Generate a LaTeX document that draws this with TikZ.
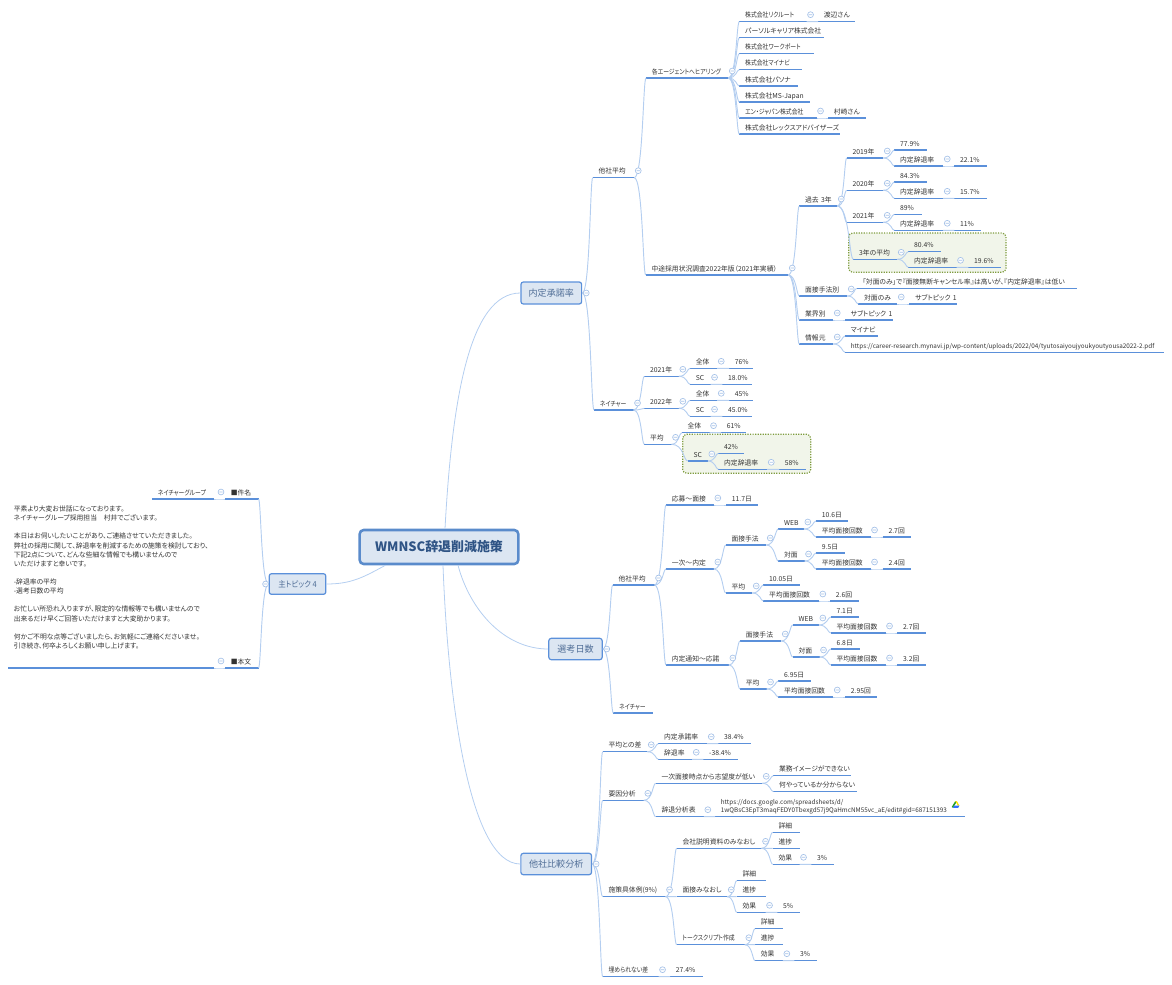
\documentclass[tikz,border=0pt]{standalone}
\usepackage{fontspec}
\setmainfont{Noto Sans CJK JP}[RawFeature=+palt]
\usepackage{xcolor}
\usetikzlibrary{calc, positioning}

\definecolor{rulecol}{HTML}{5B90DA}
\definecolor{linkcol}{HTML}{B4CEF0}
\definecolor{togglecol}{HTML}{A6C2E8}
\definecolor{boxfill}{HTML}{DCE6F2}
\definecolor{boxtext}{HTML}{4F6D96}
\definecolor{rootedge}{HTML}{5A8BCB}
\definecolor{roottext}{HTML}{2F5485}
\definecolor{greenedge}{HTML}{7F9C3F}
\definecolor{greenfill}{HTML}{F1F5EA}

\tikzset{
    underline/.style={draw=rulecol, line width=1.1pt},
    topic/.style={anchor=south west, inner xsep=4.2pt, inner ysep=1.5pt, align=left,
        font=\fontsize{5.1}{6.85}\selectfont, text=black!80,
        text height=4.6pt, text depth=1.2pt,
        append after command={(\tikzlastnode.south west) edge[underline] (\tikzlastnode.south east)}},
    wd/.style={text width={(#1)*0.75pt-8.4pt}},
    multi/.style={text height=, text depth=},
    tight/.style={font=\fontsize{5.1}{6.85}\selectfont\addfontfeature{FakeStretch=0.86}},
    weblink/.style={font=\fontsize{4.75}{6.5}\selectfont},
    mainbox/.style={draw=rulecol, line width=0.9pt, fill=boxfill, rounded corners=1.8pt,
        text=boxtext, font=\fontsize{6.8}{8}\selectfont, inner sep=0pt},
    link/.style={draw=linkcol, line width=0.7pt},
    rootlink/.style={draw=linkcol, line width=0.6pt},
    toggle/.style={draw=togglecol, fill=white, line width=0.5pt},
    hilite/.style={draw=greenedge, fill=greenfill, line width=0.9pt, densely dotted, rounded corners=3pt},
}

% curved connector, leaves and enters level
\newcommand{\trunk}[2]{%
    \draw[link] (#1) .. controls ($(#1)!.75!(#2 |- #1)$) and ($(#2)!.25!(#1 |- #2)$) .. (#2);}

\begin{document}
\begin{tikzpicture}[x=0.75pt, y=-0.75pt]
    \useasboundingbox (0,0) rectangle (1172,985);

    % --- Highlight frames ---
    \draw[hilite] (848.7,233) rectangle (1006,272.3);
    \draw[hilite] (682.7,434.3) rectangle (810.7,473.3);

    % --- Central topic ---
    \node[draw=rootedge, line width=1.9pt, fill=boxfill, rounded corners=3pt, text=roottext,
        font=\fontsize{9.7}{11}\selectfont\bfseries, minimum width=119pt, minimum height=25.5pt, inner sep=0pt]
        (root) at (439,547) {WMNSC辞退削減施策};

    % --- Main topics ---
    \node[mainbox, minimum width=45.5pt, minimum height=16.5pt] (offer) at (551.3,293) {内定承諾率};
    \node[mainbox, minimum width=40pt, minimum height=16pt] (days) at (575.5,649) {選考日数};
    \node[mainbox, minimum width=53pt, minimum height=16pt] (compare) at (556.2,864) {他社比較分析};
    \node[mainbox, minimum width=42.5pt, minimum height=15.5pt, font=\fontsize{6.2}{8}\selectfont\addfontfeature{FakeStretch=0.9}] (hub) at (297.5,584) {主トピック~4};

    % --- Offer rate: other companies ---
    \node[topic, wd=41] (oAvg) at (592.7,177.7) {他社平均};
    \node[topic, tight, wd=81.7] (ag) at (646,78) {各エージェントへヒアリング};
    \node[topic, tight, wd=66.7] (ag1) at (739.3,21.7) {株式会社リクルート};
    \node[topic, wd=36.7] (ag1a) at (818,21.7) {渡辺さん};
    \node[topic, wd=84] (ag2) at (739.3,37.7) {パーソルキャリア株式会社};
    \node[topic, tight, wd=74] (ag3) at (739.3,53.7) {株式会社ワークポート};
    \node[topic, tight, wd=62] (ag4) at (739.3,69.7) {株式会社マイナビ};
    \node[topic, wd=58] (ag5) at (739.3,86) {株式会社パソナ};
    \node[topic, wd=70] (ag6) at (739.3,102) {株式会社MS-Japan};
    \node[topic, tight, wd=76.7] (ag7) at (739.3,118) {エン・ジャパン株式会社};
    \node[topic, wd=37.3] (ag7a) at (828,118) {村崎さん};
    \node[topic, wd=100] (ag8) at (739.3,134) {株式会社レックスアドバイザーズ};

    \node[topic, wd=142] (survey) at (645.7,275) {中途採用状況調査2022年版（2021年実績）};
    \node[topic, wd=37.4] (past) at (799.3,206) {過去~3年};
    \node[topic, wd=36] (y19) at (846.7,158) {2019年};
    \node[topic, wd=32.4] (y19a) at (894.3,150) {77.9\%};
    \node[topic, wd=48.4] (y19b) at (894.3,166) {内定辞退率};
    \node[topic, wd=31.7] (y19c) at (954.3,166) {22.1\%};
    \node[topic, wd=36] (y20) at (846.7,190.3) {2020年};
    \node[topic, wd=32.4] (y20a) at (894.3,182) {84.3\%};
    \node[topic, wd=48.4] (y20b) at (894.3,198.3) {内定辞退率};
    \node[topic, wd=31.7] (y20c) at (954.3,198.3) {15.7\%};
    \node[topic, wd=36] (y21) at (846.7,222.3) {2021年};
    \node[topic, wd=27] (y21a) at (894.3,214.3) {89\%};
    \node[topic, wd=48.4] (y21b) at (894.3,230.3) {内定辞退率};
    \node[topic, wd=26.4] (y21c) at (954.3,230.3) {11\%};
    \node[topic, wd=43.4] (y3) at (853.3,259.3) {3年の平均};
    \node[topic, wd=32.4] (y3a) at (908.3,251.7) {80.4\%};
    \node[topic, wd=47.7] (y3b) at (908.3,267.3) {内定辞退率};
    \node[topic, wd=31.7] (y3c) at (968.3,267.3) {19.6\%};
    \node[topic, wd=47.4] (meth) at (799.3,296) {面接手法別};
    \node[topic, wd=219.3] (meth1) at (856.7,288.3) {「対面のみ」で『面接無断キャンセル率』は高いが、『内定辞退率』は低い};
    \node[topic, wd=38.4] (meth2) at (858.3,304) {対面のみ};
    \node[topic, wd=47.4] (meth2a) at (909.3,304) {サブトピック~1};
    \node[topic, wd=33.4] (ind) at (799.3,320) {業界別};
    \node[topic, wd=47.7] (ind1) at (845,320) {サブトピック~1};
    \node[topic, wd=33.4] (src) at (799.3,344) {情報元};
    \node[topic, wd=32.7] (src1) at (845,336) {マイナビ};
    \node[topic, weblink, wd=318.3] (src2) at (845,352.3) {\mbox{https://career-research.mynavi.jp/wp-content/uploads/2022/04/tyutosaiyoujyoukyoutyousa2022-2.pdf}};

    % --- Offer rate: Nature ---
    \node[topic, tight, wd=39] (oNat) at (594,410) {ネイチャー};
    \node[topic, wd=34] (n21) at (644.3,376.3) {2021年};
    \node[topic, wd=26.7] (n21a) at (690,368.3) {全体};
    \node[topic, wd=23.7] (n21av) at (729,368.3) {76\%};
    \node[topic, wd=20] (n21b) at (690,384.3) {SC};
    \node[topic, wd=28.7] (n21bv) at (722.3,384.3) {18.0\%};
    \node[topic, wd=34] (n22) at (644.3,408.3) {2022年};
    \node[topic, wd=26.7] (n22a) at (690,400.3) {全体};
    \node[topic, wd=23.7] (n22av) at (729,400.3) {45\%};
    \node[topic, wd=20] (n22b) at (690,416.3) {SC};
    \node[topic, wd=28.7] (n22bv) at (722.3,416.3) {45.0\%};
    \node[topic, wd=26.7] (nAvg) at (644.3,444.3) {平均};
    \node[topic, wd=27.3] (nAvga) at (681.7,432.7) {全体};
    \node[topic, wd=24] (nAvgav) at (721,432.7) {61\%};
    \node[topic, wd=19.6] (nAvgb) at (687.7,461) {SC};
    \node[topic, wd=25] (nAvgb1) at (718.3,453.3) {42\%};
    \node[topic, wd=48.4] (nAvgb2) at (718.3,469.3) {内定辞退率};
    \node[topic, wd=26] (nAvgb2v) at (779,469.3) {58\%};

    % --- Selection days: other companies ---
    \node[topic, wd=41.3] (dAvg) at (612.7,585) {他社平均};
    \node[topic, wd=47.3] (d1) at (666,505) {応募〜面接};
    \node[topic, wd=31.3] (d1v) at (726,505) {11.7日};
    \node[topic, wd=47.3] (d2) at (666,569) {一次〜内定};
    \node[topic, wd=40] (d2m) at (725.7,545) {面接手法};
    \node[topic, wd=25] (d2w) at (778.3,529) {WEB};
    \node[topic, wd=31.7] (d2wa) at (816,521) {10.6日};
    \node[topic, wd=54] (d2wb) at (816,537) {平均面接回数};
    \node[topic, wd=27.3] (d2wbv) at (882.7,537) {2.7回};
    \node[topic, wd=25.7] (d2f) at (778.3,561) {対面};
    \node[topic, wd=28.3] (d2fa) at (816,553) {9.5日};
    \node[topic, wd=54] (d2fb) at (816,569) {平均面接回数};
    \node[topic, wd=27.7] (d2fbv) at (882.7,569) {2.4回};
    \node[topic, wd=26] (d2g) at (725.7,593) {平均};
    \node[topic, wd=35.7] (d2ga) at (763.3,585) {10.05日};
    \node[topic, wd=55] (d2gb) at (763.3,601) {平均面接回数};
    \node[topic, wd=28.3] (d2gbv) at (830,601) {2.6回};
    \node[topic, wd=62.3] (d3) at (666,665) {内定通知〜応諾};
    \node[topic, wd=40.7] (d3m) at (740,641) {面接手法};
    \node[topic, wd=25.6] (d3w) at (792.7,625) {WEB};
    \node[topic, wd=27.6] (d3wa) at (830.7,617) {7.1日};
    \node[topic, wd=54.3] (d3wb) at (830.7,633) {平均面接回数};
    \node[topic, wd=27.7] (d3wbv) at (897.3,633) {2.7回};
    \node[topic, wd=26.3] (d3f) at (792.7,657) {対面};
    \node[topic, wd=28.3] (d3fa) at (830.7,649) {6.8日};
    \node[topic, wd=54.3] (d3fb) at (830.7,665) {平均面接回数};
    \node[topic, wd=27.7] (d3fbv) at (897.3,665) {3.2回};
    \node[topic, wd=26] (d3g) at (740,689) {平均};
    \node[topic, wd=31.7] (d3ga) at (778.3,681) {6.95日};
    \node[topic, wd=54.4] (d3gb) at (778.3,697) {平均面接回数};
    \node[topic, wd=31.7] (d3gbv) at (845,697) {2.95回};
    \node[topic, tight, wd=39.4] (dNat) at (613.3,713) {ネイチャー};

    % --- Comparison with other companies ---
    \node[topic, wd=44] (gap) at (602.7,751.7) {平均との差};
    \node[topic, wd=48.4] (gap1) at (658.3,743.7) {内定承諾率};
    \node[topic, wd=31.7] (gap1v) at (718.3,743.7) {38.4\%};
    \node[topic, wd=33.4] (gap2) at (658.3,759.3) {辞退率};
    \node[topic, wd=34.4] (gap2v) at (703.3,759.3) {\mbox{-38.4\%}};
    \node[topic, wd=40.6] (why) at (602.7,800.3) {要因分析};
    \node[topic, wd=106] (why1) at (655.7,783.3) {一次面接時点から志望度が低い};
    \node[topic, wd=77.4] (why1a) at (773.3,775.7) {業務イメージができない};
    \node[topic, wd=82.7] (why1b) at (773.3,791.7) {何やっているか分からない};
    \node[topic, wd=47.6] (why2) at (655.7,816.7) {辞退分析表};
    \node[topic, weblink, wd=249, multi] (why2a) at (715,816.7) {https://docs.google.com/spreadsheets/d/\\
        1wQBsC3EpT3maqFEDY0Tbexgd57j9QaHmcNM55vc\_aE/edit\#gid=687151393};
    \node[topic, wd=62.3] (case) at (602.7,896.7) {施策具体例(9\%)};
    \node[topic, wd=84.3] (case1) at (676.7,848.3) {会社説明資料のみなおし};
    \node[topic, wd=26.3] (case1a) at (772.7,832.3) {詳細};
    \node[topic, wd=26.3] (case1b) at (772.7,848.3) {進捗};
    \node[topic, wd=26.3] (case1c) at (772.7,864.3) {効果};
    \node[topic, wd=22] (case1v) at (811.3,864.3) {3\%};
    \node[topic, wd=50] (case2) at (676.7,896.7) {面接みなおし};
    \node[topic, wd=28.3] (case2a) at (736.7,880.7) {詳細};
    \node[topic, wd=28.3] (case2b) at (736.7,896.7) {進捗};
    \node[topic, wd=28.3] (case2c) at (736.7,912.3) {効果};
    \node[topic, wd=21.7] (case2v) at (777.3,912.3) {5\%};
    \node[topic, tight, wd=67.6] (case3) at (676.7,944.7) {トークスクリプト作成};
    \node[topic, wd=27.3] (case3a) at (755,928.7) {詳細};
    \node[topic, wd=27.3] (case3b) at (755,944.7) {進捗};
    \node[topic, wd=27.3] (case3c) at (755,960.7) {効果};
    \node[topic, wd=22.4] (case3v) at (794.3,960.7) {3\%};
    \node[topic, tight, wd=55.3] (rest) at (602.7,976.7) {埋められない差};
    \node[topic, wd=32.3] (restv) at (670,976.7) {27.4\%};

    % --- Mail draft on the left ---
    \node[topic, wd=33] (subj) at (225,499) {■件名};
    \node[topic, tight, wd=61] (subjv) at (152,499) {ネイチャーグループ};
    \node[topic, wd=33] (mail) at (225,668) {■本文};
    \node[topic, wd=205, multi, inner ysep=14pt] (mailv) at (8,668) {平素より大変お世話になっております。\\
        ネイチャーグループ採用担当　村井でございます。\\[6.85pt]
        本日はお伺いしたいことがあり、ご連絡させていただきました。\\
        弊社の採用に関して、辞退率を削減するための施策を検討しており、\\
        下記2点について、どんな些細な情報でも構いませんので\\
        いただけますと幸いです。\\[6.85pt]
        -辞退率の平均\\
        -選考日数の平均\\[6.85pt]
        お忙しい所恐れ入りますが、限定的な情報等でも構いませんので\\
        出来るだけ早くご回答いただけますと大変助かります。\\[6.85pt]
        何かご不明な点等ございましたら、お気軽にご連絡くださいませ。\\
        引き続き、何卒よろしくお願い申し上げます。};

    % --- Central connectors ---
    \draw[rootlink] ($(root.north)+(6,0)$) .. controls +(7,-129) and +(-51,0) .. (offer.west);
    \draw[rootlink] ($(root.south)+(19,0)$) .. controls +(12,45) and +(-44,0) .. (days.west);
    \draw[rootlink] ($(root.south)+(4,0)$) .. controls +(5,135) and +(-51,0) .. (compare.west);
    \draw[rootlink] (hub.east) .. controls +(25,0) and +(-22,12) .. ($(root.south west)+(27,0)$);

    % --- Branches ---
    \foreach \p/\kids in {offer/{oAvg,oNat}, days/{dAvg,dNat}, compare/{gap,why,case,rest}} {
        \foreach \c in \kids { \trunk{\p.east}{\c.south west} }
        \draw[toggle] ($(\p.east)+(4,0)$) circle[radius=2.2pt] ++(-1.2pt,0) -- ++(2.4pt,0);
    }
    \foreach \p/\kids in {
        oAvg/{ag,survey}, ag/{ag1,ag2,ag3,ag4,ag5,ag6,ag7,ag8}, ag1/{ag1a}, ag7/{ag7a},
        survey/{past,meth,ind,src}, past/{y19,y20,y21,y3},
        y19/{y19a,y19b}, y19b/{y19c}, y20/{y20a,y20b}, y20b/{y20c},
        y21/{y21a,y21b}, y21b/{y21c}, y3/{y3a,y3b}, y3b/{y3c},
        meth/{meth1,meth2}, meth2/{meth2a}, ind/{ind1}, src/{src1,src2},
        oNat/{n21,n22,nAvg}, n21/{n21a,n21b}, n21a/{n21av}, n21b/{n21bv},
        n22/{n22a,n22b}, n22a/{n22av}, n22b/{n22bv},
        nAvg/{nAvga,nAvgb}, nAvga/{nAvgav}, nAvgb/{nAvgb1,nAvgb2}, nAvgb2/{nAvgb2v},
        dAvg/{d1,d2,d3}, d1/{d1v}, d2/{d2m,d2g}, d2m/{d2w,d2f},
        d2w/{d2wa,d2wb}, d2wb/{d2wbv}, d2f/{d2fa,d2fb}, d2fb/{d2fbv},
        d2g/{d2ga,d2gb}, d2gb/{d2gbv},
        d3/{d3m,d3g}, d3m/{d3w,d3f}, d3w/{d3wa,d3wb}, d3wb/{d3wbv},
        d3f/{d3fa,d3fb}, d3fb/{d3fbv}, d3g/{d3ga,d3gb}, d3gb/{d3gbv},
        gap/{gap1,gap2}, gap1/{gap1v}, gap2/{gap2v}, why/{why1,why2},
        why1/{why1a,why1b}, why2/{why2a}, case/{case1,case2,case3},
        case1/{case1a,case1b,case1c}, case1c/{case1v},
        case2/{case2a,case2b,case2c}, case2c/{case2v},
        case3/{case3a,case3b,case3c}, case3c/{case3v}, rest/{restv}} {
        \foreach \c in \kids { \trunk{\p.south east}{\c.south west} }
        \draw[toggle] ($(\p.south east)+(4,-7)$) circle[radius=2.2pt] ++(-1.2pt,0) -- ++(2.4pt,0);
    }

    % --- Left side runs the other way ---
    \foreach \c in {subj,mail} { \trunk{hub.west}{\c.south east} }
    \draw[toggle] ($(hub.west)+(-3,0)$) circle[radius=2.2pt] ++(-1.2pt,0) -- ++(2.4pt,0);
    \foreach \p/\c in {subj/subjv, mail/mailv} {
        \trunk{\p.south west}{\c.south east}
        \draw[toggle] ($(\p.south west)+(-4,-7)$) circle[radius=2.2pt] ++(-1.2pt,0) -- ++(2.4pt,0);
    }

    % --- Drive mark beside the sheet link ---
    \fill[green!55!black!85] (955.3,801) -- (951.7,807) -- (953,807.8) -- (956.2,802.6) -- cycle;
    \fill[yellow!85!orange] (955.3,801) -- (956.8,801) -- (959.4,805.6) -- (957.8,805.6) -- cycle;
    \fill[blue!70!cyan!80] (953,807.8) -- (958.2,807.8) -- (959.4,805.6) -- (954.2,805.6) -- cycle;
\end{tikzpicture}
\end{document}
